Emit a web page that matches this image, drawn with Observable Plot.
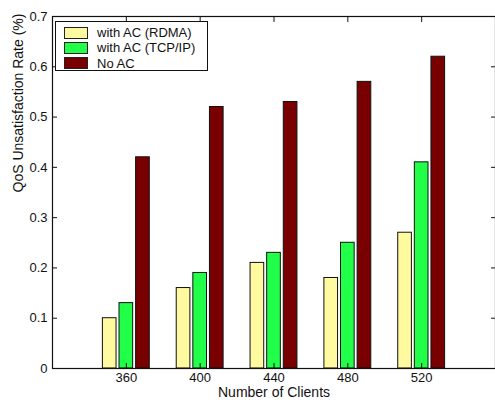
<!DOCTYPE html>
<html>
<head>
<meta charset="utf-8">
<script src="https://cdn.jsdelivr.net/npm/d3@7"></script>
<script src="https://cdn.jsdelivr.net/npm/@observablehq/plot@0.6"></script>
<style>
  html, body { margin: 0; padding: 0; background: #fff; }
  #wrap { position: relative; width: 495px; height: 402px; font-family: "Liberation Sans", Arial, Helvetica, sans-serif; }
  #legend { position: absolute; left: 55px; top: 21px; width: 151px; height: 48px; border: 1.5px solid #111; background: #fff; font-size: 13px; color: #111; }
  .row { position: absolute; left: 8px; display: flex; align-items: center; height: 15px; }
  .sw { width: 22px; height: 10px; border: 1px solid #222; margin-right: 9px; }
</style>
</head>
<body>
<div id="wrap"></div>
<script>
const clients = [360, 400, 440, 480, 520];
const series = ["with AC (RDMA)", "with AC (TCP/IP)", "No AC"];
const rdma = [0.10, 0.16, 0.21, 0.18, 0.27];
const tcp = [0.13, 0.19, 0.23, 0.25, 0.41];
const noac = [0.42, 0.52, 0.53, 0.57, 0.62];
const colors = ["#fff9a0", "#22ff48", "#780000"];
const yTicks = [0, 0.1, 0.2, 0.3, 0.4, 0.5, 0.6, 0.7];
const xTicks = [360, 400, 440, 480, 520];

const values = [rdma, tcp, noac];
const data = [];
series.forEach((s, i) => clients.forEach((c, j) => data.push({clients: c, series: s, idx: i, value: values[i][j]})));

const pitch = 9, bw = 7.4;
const font = "Liberation Sans, Arial, Helvetica, sans-serif";

const chart = Plot.plot({
  width: 495,
  height: 402,
  marginLeft: 52,
  marginRight: 0,
  marginTop: 16,
  marginBottom: 34,
  style: {fontFamily: font, fontSize: "13px", color: "#111", background: "#fff"},
  x: {domain: [320, 560]},
  y: {domain: [0, 0.7]},
  color: {domain: series, range: colors},
  marks: [
    Plot.rectY(data, {
      x1: d => d.clients + (d.idx - 1) * pitch - bw / 2,
      x2: d => d.clients + (d.idx - 1) * pitch + bw / 2,
      y: "value",
      fill: "series",
      stroke: "#111",
      strokeWidth: 1
    }),
    Plot.frame({stroke: "#111", strokeWidth: 1.2}),
    Plot.axisY(yTicks, {anchor: "left", tickSize: 0, tickPadding: 5, tickFormat: d => d === 0 ? "0" : d3.format(".1f")(d), fontSize: 13, label: null}),
    Plot.axisY(yTicks, {anchor: "left", tickSize: -5, text: null, label: null}),
    Plot.axisY(yTicks, {anchor: "right", tickSize: -5, text: null, label: null}),
    Plot.axisX(xTicks, {anchor: "bottom", tickSize: 0, tickPadding: 4, fontSize: 13, label: null, tickFormat: d => String(d)}),
    Plot.axisX(xTicks, {anchor: "bottom", tickSize: -5, text: null, label: null}),
    Plot.axisX(xTicks, {anchor: "top", tickSize: -5, text: null, label: null}),
    Plot.text(["Number of Clients"], {frameAnchor: "bottom", dy: 19, lineAnchor: "top", fontSize: 14, fill: "#111"}),
    Plot.text(["QoS Unsatisfaction Rate (%)"], {frameAnchor: "left", dx: -34, rotate: -90, fontSize: 14, fill: "#111"})
  ]
});

const wrap = document.getElementById("wrap");
wrap.appendChild(chart);

const legend = document.createElement("div");
legend.id = "legend";
series.forEach((s, i) => {
  const row = document.createElement("div");
  row.className = "row";
  row.style.top = (3 + i * 15.3) + "px";
  const sw = document.createElement("div");
  sw.className = "sw";
  sw.style.background = colors[i];
  const t = document.createElement("span");
  t.textContent = s;
  row.appendChild(sw);
  row.appendChild(t);
  legend.appendChild(row);
});
wrap.appendChild(legend);
</script>
</body>
</html>
